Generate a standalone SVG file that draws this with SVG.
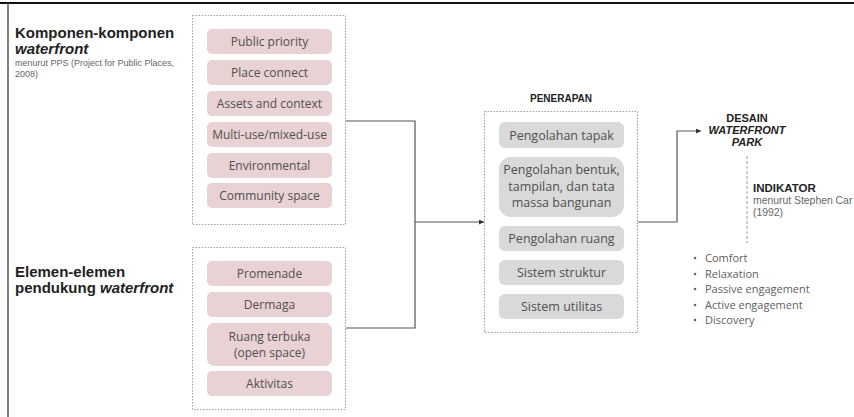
<svg xmlns="http://www.w3.org/2000/svg" width="854" height="417" viewBox="0 0 854 417">
<style>
.frame{fill:none;stroke:#9e9e9e;stroke-width:1;stroke-dasharray:1.5 1.5}
.pink{fill:#e8d2d4}
.grey{fill:#d9d9d9}
.bt{font-family:"Open Sans",sans-serif;font-size:12px;fill:#505050;text-anchor:middle}
.gt{font-family:"Open Sans",sans-serif;font-size:12.5px;fill:#505050;text-anchor:middle}
.h{font-family:"Liberation Sans",Arial,sans-serif;font-weight:bold;fill:#222}
.small{font-family:"Liberation Sans",Arial,sans-serif;fill:#666}
.li{font-family:"Open Sans",sans-serif;font-size:11px;fill:#606060}
.con{fill:none;stroke:#555;stroke-width:1.2}
</style>
<defs>
<marker id="arr" viewBox="0 0 10 10" refX="10" refY="5" markerWidth="5" markerHeight="5" orient="auto" markerUnits="userSpaceOnUse">
<path d="M0,0 L10,5 L0,10 z" fill="#333"/>
</marker>
</defs>
<rect x="0" y="0" width="854" height="417" fill="#fff"/>
<line x1="0" y1="3" x2="854" y2="3" stroke="#111" stroke-width="2"/>
<line x1="8" y1="3" x2="8" y2="417" stroke="#555" stroke-width="1.5"/>

<g id="label-komponen">
<text class="h" x="15" y="38" font-size="15">Komponen-komponen</text>
<text class="h" x="15" y="54" font-size="15" font-style="italic">waterfront</text>
<text class="small" x="15" y="66" font-size="9">menurut PPS (Project for Public Places,</text>
<text class="small" x="15" y="77" font-size="9">2008)</text>
</g>
<g id="label-elemen">
<text class="h" x="15" y="277" font-size="15">Elemen-elemen</text>
<text class="h" x="15" y="293" font-size="15">pendukung <tspan font-style="italic">waterfront</tspan></text>
</g>

<g id="komponen">
<rect class="frame" x="192.5" y="15.5" width="153" height="209"/>
<g id="public-priority"><rect class="pink" x="207" y="29" width="125" height="25" rx="5"/><text class="bt" x="269.5" y="46">Public priority</text></g>
<g id="place-connect"><rect class="pink" x="207" y="60" width="125" height="25" rx="5"/><text class="bt" x="269.5" y="77">Place connect</text></g>
<g id="assets"><rect class="pink" x="207" y="91" width="125" height="25" rx="5"/><text class="bt" x="269.5" y="108">Assets and context</text></g>
<g id="multi-use"><rect class="pink" x="207" y="122" width="125" height="25" rx="5"/><text class="bt" x="269.5" y="139">Multi-use/mixed-use</text></g>
<g id="environmental"><rect class="pink" x="207" y="153" width="125" height="25" rx="5"/><text class="bt" x="269.5" y="170">Environmental</text></g>
<g id="community"><rect class="pink" x="207" y="183" width="125" height="25" rx="5"/><text class="bt" x="269.5" y="200">Community space</text></g>
</g>

<g id="elemen">
<rect class="frame" x="192.5" y="247.5" width="153" height="162"/>
<g id="promenade"><rect class="pink" x="207" y="261" width="125" height="25" rx="5"/><text class="bt" x="269.5" y="278">Promenade</text></g>
<g id="dermaga"><rect class="pink" x="207" y="292" width="125" height="25" rx="5"/><text class="bt" x="269.5" y="309">Dermaga</text></g>
<g id="ruang-terbuka"><rect class="pink" x="207" y="323" width="125" height="43" rx="7"/><text class="bt" x="269.5" y="341">Ruang terbuka</text><text class="bt" x="269.5" y="357">(open space)</text></g>
<g id="aktivitas"><rect class="pink" x="207" y="371" width="125" height="25" rx="5"/><text class="bt" x="269.5" y="388">Aktivitas</text></g>
</g>

<g id="penerapan">
<text class="h" x="561" y="102" font-size="10" text-anchor="middle">PENERAPAN</text>
<rect class="frame" x="484.5" y="111.5" width="153" height="221"/>
<g id="tapak"><rect class="grey" x="499" y="122" width="125" height="26" rx="6"/><text class="gt" x="561.5" y="139.5">Pengolahan tapak</text></g>
<g id="bentuk"><rect class="grey" x="499" y="157" width="125" height="60" rx="12"/><text class="gt" x="561.5" y="173.5">Pengolahan bentuk,</text><text class="gt" x="561.5" y="190.5">tampilan, dan tata</text><text class="gt" x="561.5" y="207">massa bangunan</text></g>
<g id="ruang"><rect class="grey" x="499" y="226" width="125" height="25" rx="6"/><text class="gt" x="561.5" y="243">Pengolahan ruang</text></g>
<g id="struktur"><rect class="grey" x="499" y="260" width="125" height="25" rx="6"/><text class="gt" x="561.5" y="277">Sistem struktur</text></g>
<g id="utilitas"><rect class="grey" x="499" y="294" width="125" height="25" rx="6"/><text class="gt" x="561.5" y="311">Sistem utilitas</text></g>
</g>

<g id="desain">
<text class="h" x="747" y="122" font-size="11" text-anchor="middle">DESAIN</text>
<text class="h" x="747" y="134" font-size="11" text-anchor="middle" font-style="italic">WATERFRONT</text>
<text class="h" x="747" y="146" font-size="11" text-anchor="middle" font-style="italic">PARK</text>
</g>

<g id="indikator">
<line x1="747" y1="156" x2="747" y2="243" stroke="#999" stroke-width="1" stroke-dasharray="3 2"/>
<text class="h" x="753" y="192" font-size="11.5">INDIKATOR</text>
<text class="small" x="753" y="203.5" font-size="10.4">menurut Stephen Car</text>
<text class="small" x="753" y="215.5" font-size="10.4">(1992)</text>
</g>

<g id="list">
<circle cx="695" cy="258" r="1.3" fill="#666"/><text class="li" x="705" y="262">Comfort</text>
<circle cx="695" cy="274" r="1.3" fill="#666"/><text class="li" x="705" y="278">Relaxation</text>
<circle cx="695" cy="289" r="1.3" fill="#666"/><text class="li" x="705" y="293">Passive engagement</text>
<circle cx="695" cy="305" r="1.3" fill="#666"/><text class="li" x="705" y="309">Active engagement</text>
<circle cx="695" cy="320" r="1.3" fill="#666"/><text class="li" x="705" y="324">Discovery</text>
</g>

<g id="connectors">
<path class="con" d="M346,121 H415 V328 H346"/>
<path class="con" d="M415,222 H484" marker-end="url(#arr)"/>
<path class="con" d="M638,222 H677 V131 H701" marker-end="url(#arr)"/>
</g>
</svg>
